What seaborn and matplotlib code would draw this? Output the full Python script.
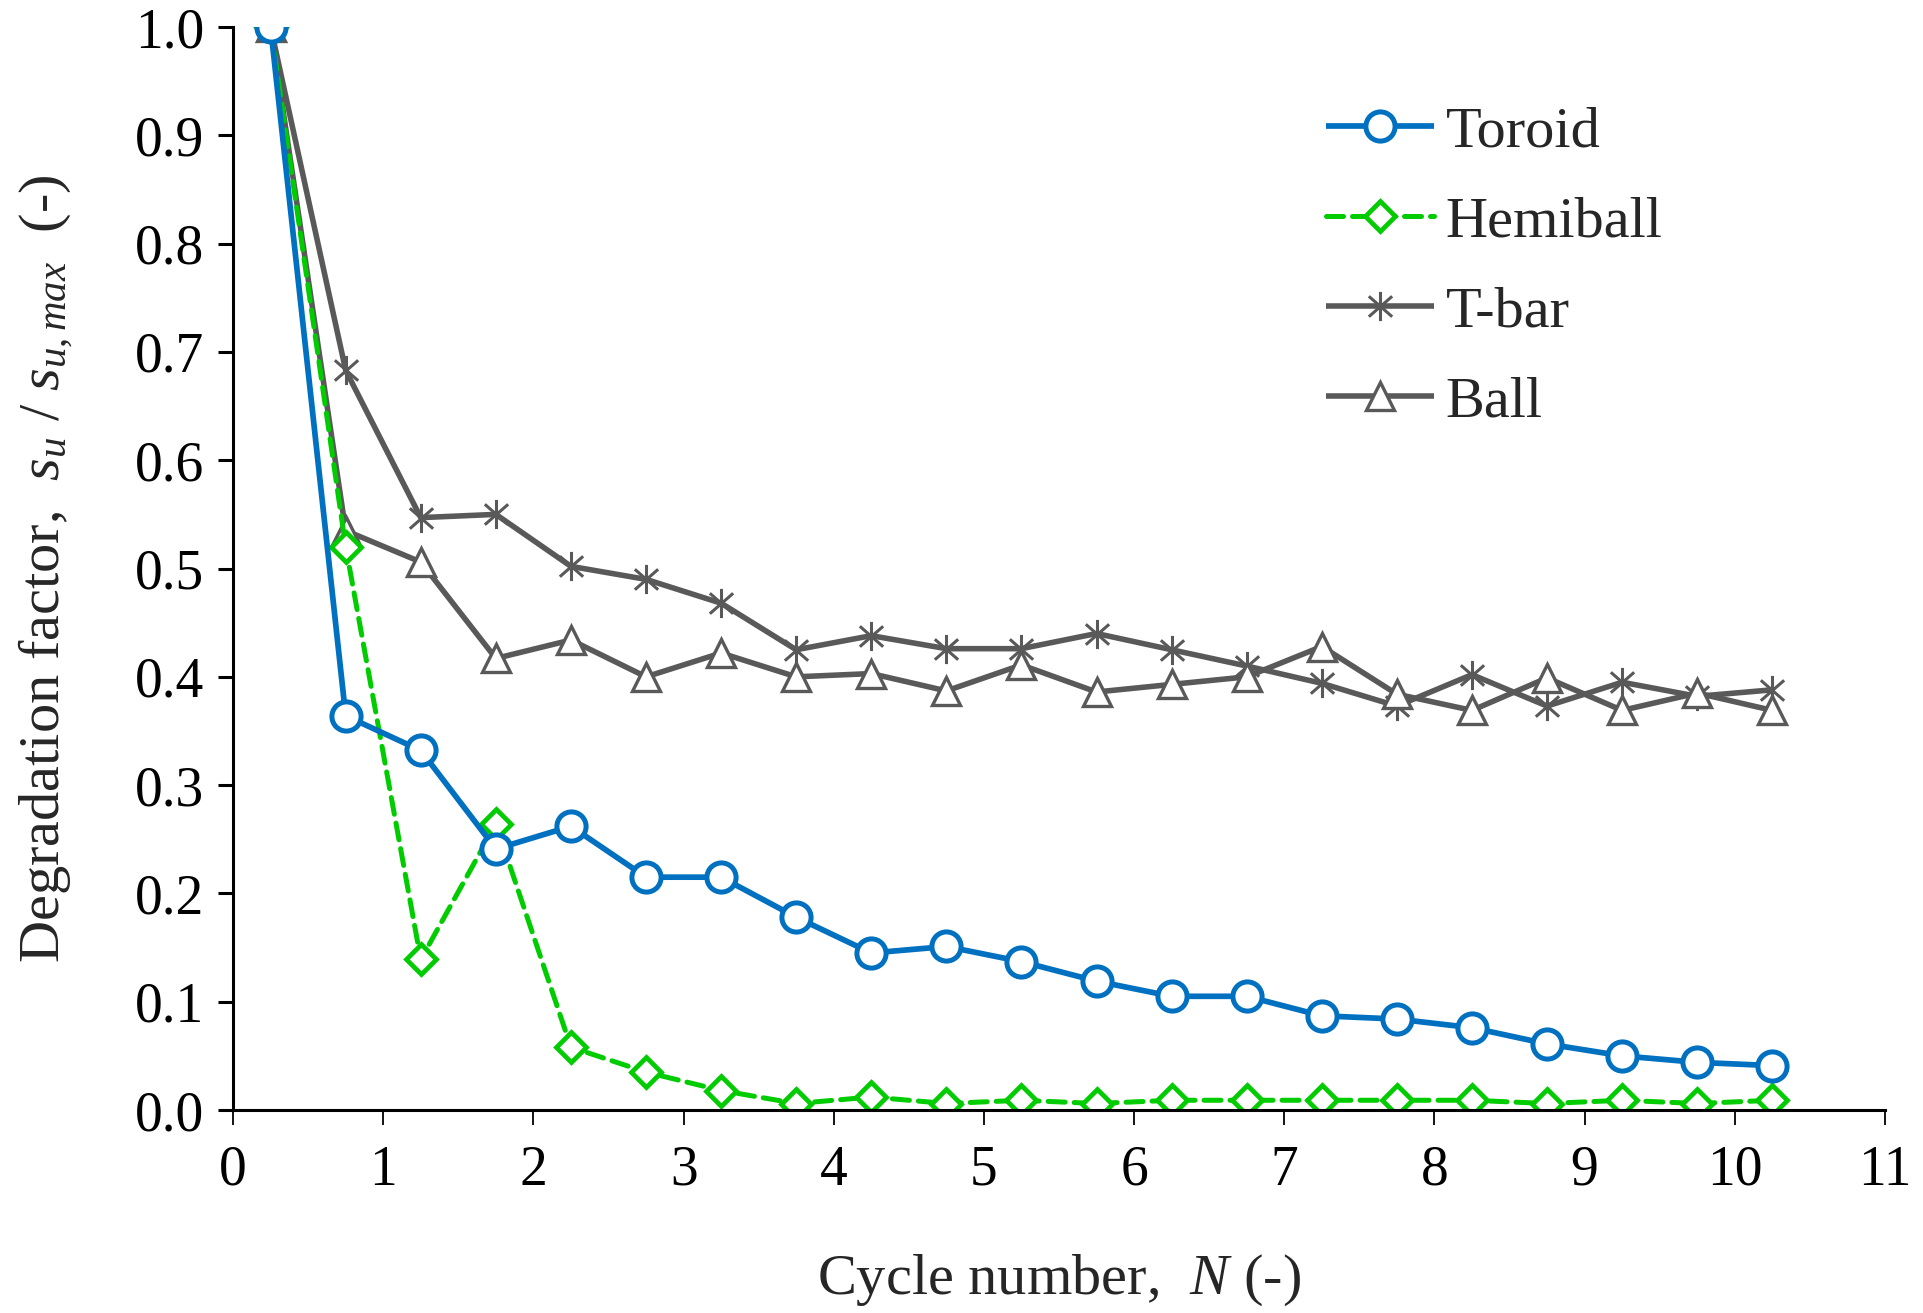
import numpy as np
import pandas as pd
import matplotlib
matplotlib.use("Agg")
import matplotlib.pyplot as plt
from matplotlib.path import Path
import seaborn as sns

cycles = [0.25, 0.75, 1.25, 1.75, 2.25, 2.75, 3.25, 3.75, 4.25, 4.75, 5.25,
          5.75, 6.25, 6.75, 7.25, 7.75, 8.25, 8.75, 9.25, 9.75, 10.25]
toroid = [1.0, 0.364, 0.332, 0.241, 0.262, 0.215, 0.215, 0.178, 0.145, 0.151, 0.137,
          0.119, 0.105, 0.105, 0.087, 0.084, 0.076, 0.061, 0.050, 0.044, 0.041]
hemiball = [1.0, 0.520, 0.139, 0.264, 0.058, 0.035, 0.018, 0.006, 0.012, 0.006, 0.009,
            0.006, 0.009, 0.009, 0.009, 0.009, 0.009, 0.006, 0.009, 0.006, 0.009]
tbar = [1.0, 0.683, 0.547, 0.550, 0.502, 0.490, 0.468, 0.425, 0.438, 0.426, 0.426,
        0.440, 0.425, 0.410, 0.394, 0.373, 0.402, 0.373, 0.395, 0.382, 0.388]
ball = [1.0, 0.535, 0.506, 0.417, 0.434, 0.400, 0.422, 0.400, 0.403, 0.387, 0.411,
        0.386, 0.393, 0.400, 0.428, 0.384, 0.369, 0.399, 0.369, 0.385, 0.369]
series_names = ["Toroid", "Hemiball", "T-bar", "Ball"]
x_ticks = list(range(0, 12))
y_ticks = [0.0, 0.1, 0.2, 0.3, 0.4, 0.5, 0.6, 0.7, 0.8, 0.9, 1.0]

sns.set_theme(style="ticks")
plt.rcParams["font.family"] = ["Liberation Serif", "DejaVu Serif"]
plt.rcParams["mathtext.fontset"] = "custom"
plt.rcParams["mathtext.rm"] = "Liberation Serif"
plt.rcParams["mathtext.it"] = "Liberation Serif:style=italic"
plt.rcParams["mathtext.bf"] = "Liberation Serif:weight=bold"

fig = plt.figure(figsize=(19.23, 13.13), dpi=100)
ax = fig.add_axes([0.1212, 0.1546, 0.859, 0.8248])

# asterisk marker: vertical bar + X
ast = Path([(0, -1), (0, 1), (-0.8, -0.7), (0.8, 0.7), (-0.8, 0.7), (0.8, -0.7)],
           [Path.MOVETO, Path.LINETO, Path.MOVETO, Path.LINETO, Path.MOVETO, Path.LINETO])

blue = "#0070C0"
green = "#00CC00"
gray = "#595959"

styles = {
    "T-bar": dict(y=tbar, color=gray, lw=4.0, ls="-", marker=ast, ms=21, mfc=gray, mec=gray, mew=2.2, z=3),
    "Ball": dict(y=ball, color=gray, lw=4.0, ls="-", marker="^", ms=20, mfc="white", mec=gray, mew=2.4, z=3),
    "Hemiball": dict(y=hemiball, color=green, lw=3.6, ls=(0, (3.4, 1.8)), marker="D", ms=15, mfc="white",
                     mec=green, mew=3.4, z=4),
    "Toroid": dict(y=toroid, color=blue, lw=4.1, ls="-", marker="o", ms=21, mfc="white", mec=blue, mew=3.6, z=5),
}

for name in ["T-bar", "Ball", "Hemiball", "Toroid"]:
    st = styles[name]
    n0 = len(ax.lines)
    sns.lineplot(x=cycles, y=st["y"], ax=ax, color=st["color"], label=name)
    line = ax.lines[n0]
    line.set_linewidth(st["lw"])
    line.set_linestyle(st["ls"])
    line.set_marker(st["marker"])
    line.set_markersize(st["ms"])
    line.set_markerfacecolor(st["mfc"])
    line.set_markeredgecolor(st["mec"])
    line.set_markeredgewidth(st["mew"])
    line.set_zorder(st["z"])
    line.set_solid_capstyle("butt")
    line.set_dash_capstyle("round")

ax.set_xlim(0, 11)
ax.set_ylim(0, 1.0)
ax.set_xticks(x_ticks)
ax.set_yticks(y_ticks)
ax.set_yticklabels([f"{v:.1f}" for v in y_ticks])
ax.tick_params(axis="both", labelsize=40, colors="black", direction="out")
ax.tick_params(axis="y", length=11, width=2.2, pad=10)
ax.tick_params(axis="x", length=11, width=1.3, pad=14)
for s in ["top", "right"]:
    ax.spines[s].set_visible(False)
for s in ["left", "bottom"]:
    ax.spines[s].set_linewidth(2.2)
    ax.spines[s].set_color("black")
ax.spines["bottom"].set_zorder(6)

ax.set_xlabel(r"Cycle number,  $N$ (-)", fontsize=42, labelpad=40)
ax.set_ylabel(r"Degradation factor,  $s_u$ / $s_{u,max}$  (-)", fontsize=42, labelpad=42)

handles, labels = ax.get_legend_handles_labels()
order = [labels.index(n) for n in series_names]
leg = ax.legend([handles[i] for i in order], [labels[i] for i in order],
                loc="upper left", bbox_to_anchor=(0.63, 0.976), fontsize=42,
                frameon=False, handlelength=1.85, handletextpad=0.2, labelspacing=0.64)

fig.savefig("out.png", dpi=100)
